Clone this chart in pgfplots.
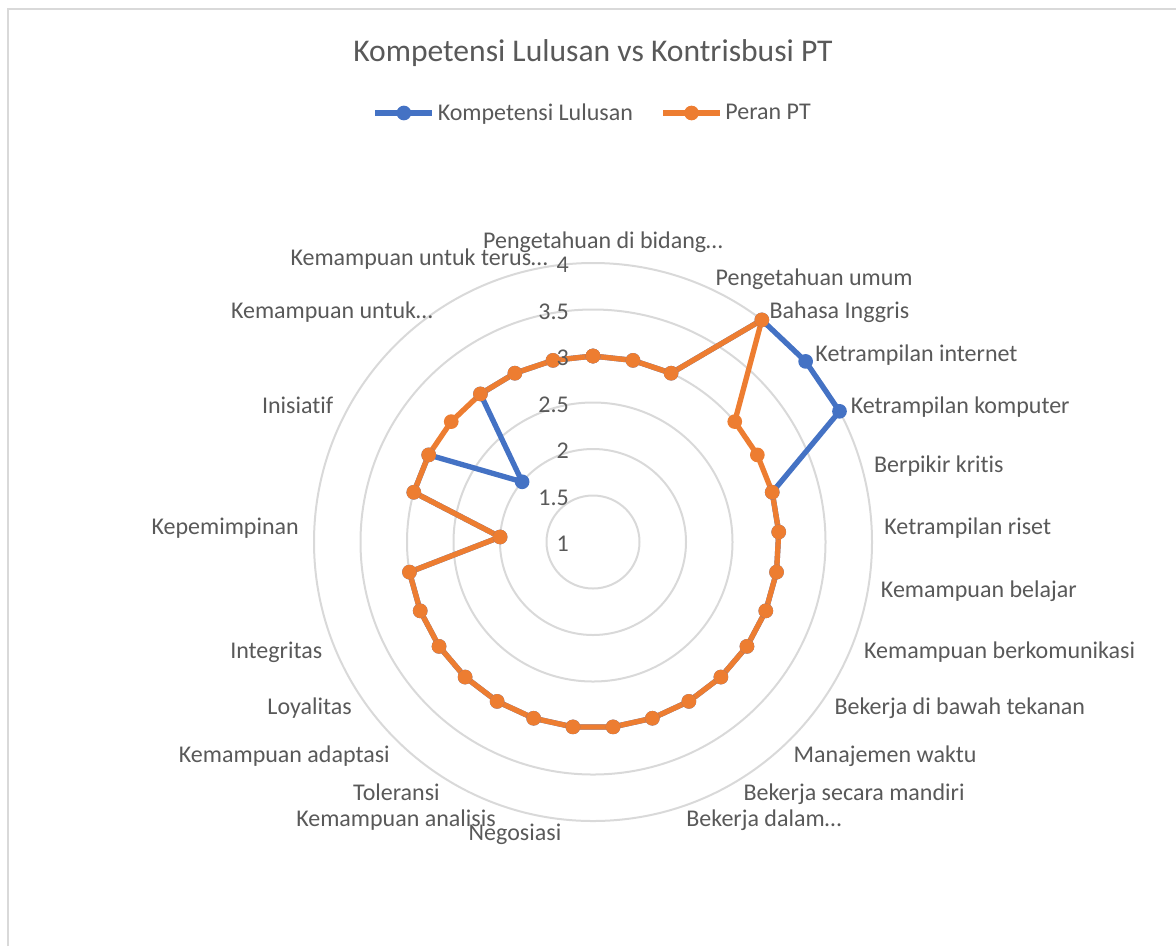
\documentclass[border=0pt]{standalone}
\usepackage{pgfplots}
\pgfplotsset{compat=1.18}
\usepgfplotslibrary{polar}
\usepackage{fontspec}
\setmainfont{Carlito}[Ligatures=NoCommon]
\definecolor{kblue}{HTML}{4472C4}
\definecolor{korange}{HTML}{ED7D31}
\definecolor{gridgray}{HTML}{D9D9D9}
\definecolor{txt}{HTML}{595959}
\begin{document}
\begin{tikzpicture}[x=0.75pt,y=0.75pt]
\useasboundingbox (0,0) rectangle (1176,-946);
\draw[gridgray, line width=1.5pt] (8,-946) -- (8,-9) -- (1176,-9);
\begin{polaraxis}[
  at={(444.75pt,-406.5pt)}, anchor=center,
  scale only axis, width=418.5pt, height=418.5pt,
  xmin=0, xmax=360, ymin=0, ymax=3,
  xtick=\empty, ytick={0.5,1,1.5,2,2.5,3}, yticklabels={},
  ymajorgrids, xmajorgrids=false,
  major grid style={draw=gridgray, line width=1.5pt},
  axis line style={draw=none},
  major tick length=0pt,
  x filter/.expression={mod(450-x*360/29,360)},
  y filter/.expression={y-1},
  clip=false,
  legend columns=2,
  legend style={at={(0.5,1)}, anchor=center, yshift=112.5pt, draw=none, fill=none,
    font=\fontsize{18}{21.6}\selectfont, text=txt,
    /tikz/every even column/.append style={column sep=18.5pt}},
  legend image code/.code={\draw[mark repeat=2,mark phase=2,#1] plot coordinates {(0pt,0pt) (21.4pt,0pt) (42.8pt,0pt)};},
  title={Kompetensi Lulusan vs Kontrisbusi PT},
  title style={at={(0.5,1)}, anchor=center, yshift=143pt, font=\fontsize{23.7}{28}\selectfont, text=txt},
]
\addplot[kblue, line width=4pt, line join=round, mark=*, mark size=5pt,
  mark options={fill=kblue, line width=1pt}] coordinates {
 (0,3) (1,3) (2,3) (3,4) (4,4) (5,4) (6,3) (7,3) (8,3) (9,3)
 (10,3) (11,3) (12,3) (13,3) (14,3) (15,3) (16,3) (17,3) (18,3) (19,3)
 (20,3) (21,3) (22,2) (23,3) (24,3) (25,2) (26,3) (27,3) (28,3) (29,3)};
\addlegendentry{Kompetensi Lulusan}
\addplot[korange, line width=4pt, line join=round, mark=*, mark size=5pt,
  mark options={fill=korange, line width=1pt}] coordinates {
 (0,3) (1,3) (2,3) (3,4) (4,3) (5,3) (6,3) (7,3) (8,3) (9,3)
 (10,3) (11,3) (12,3) (13,3) (14,3) (15,3) (16,3) (17,3) (18,3) (19,3)
 (20,3) (21,3) (22,2) (23,3) (24,3) (25,3) (26,3) (27,3) (28,3) (29,3)};
\addlegendentry{Peran PT}
\end{polaraxis}
\begin{scope}[every node/.style={inner sep=0pt, text=txt, font=\fontsize{18}{21.6}\selectfont, text height=0.75em, text depth=0.25em}]
% radial labels
\node[anchor=base east, text height=, text depth=] at (569,-272.5) {4};
\node[anchor=base east, text height=, text depth=] at (569,-319) {3.5};
\node[anchor=base east, text height=, text depth=] at (569,-365.5) {3};
\node[anchor=base east, text height=, text depth=] at (569,-412) {2.5};
\node[anchor=base east, text height=, text depth=] at (569,-458.5) {2};
\node[anchor=base east, text height=, text depth=] at (569,-505) {1.5};
\node[anchor=base east, text height=, text depth=] at (569,-551.5) {1};
% category labels
\begin{scope}[yshift=-5*0.75pt]
\node[anchor=south] at (603,-247.5) {Pengetahuan di bidang…};
\node[anchor=west] at (715.4,-277.4) {Pengetahuan umum};
\node[anchor=west] at (769.4,-309.9) {Bahasa Inggris};
\node[anchor=west] at (815.2,-353.3) {Ketrampilan internet};
\node[anchor=west] at (850.5,-405.5) {Ketrampilan komputer};
\node[anchor=west] at (873.9,-464) {Berpikir kritis};
\node[anchor=west] at (884.1,-526.2) {Ketrampilan riset};
\node[anchor=west] at (880.7,-589.1) {Kemampuan belajar};
\node[anchor=west] at (863.8,-649.9) {Kemampuan berkomunikasi};
\node[anchor=west] at (834.3,-705.7) {Bekerja di bawah tekanan};
\node[anchor=west] at (793.4,-753.7) {Manajemen waktu};
\node[anchor=west] at (743.3,-791.8) {Bekerja secara mandiri};
\node[anchor=west] at (686.1,-818.3) {Bekerja dalam…};
\node[anchor=east] at (561.5,-831.8) {Negosiasi};
\node[anchor=east] at (496,-818.3) {Kemampuan analisis};
\node[anchor=east] at (440,-791.8) {Toleransi};
\node[anchor=east] at (390,-753.7) {Kemampuan adaptasi};
\node[anchor=east] at (352,-705.7) {Loyalitas};
\node[anchor=east] at (322.5,-649.9) {Integritas};
\node[anchor=east] at (299,-526.2) {Kepemimpinan};
\node[anchor=east] at (333.5,-405.5) {Inisiatif};
\node[anchor=east] at (433,-309.9) {Kemampuan untuk…};
\node[anchor=east] at (548,-257.5) {Kemampuan untuk terus…};
\end{scope}
\end{scope}
\end{tikzpicture}
\end{document}
